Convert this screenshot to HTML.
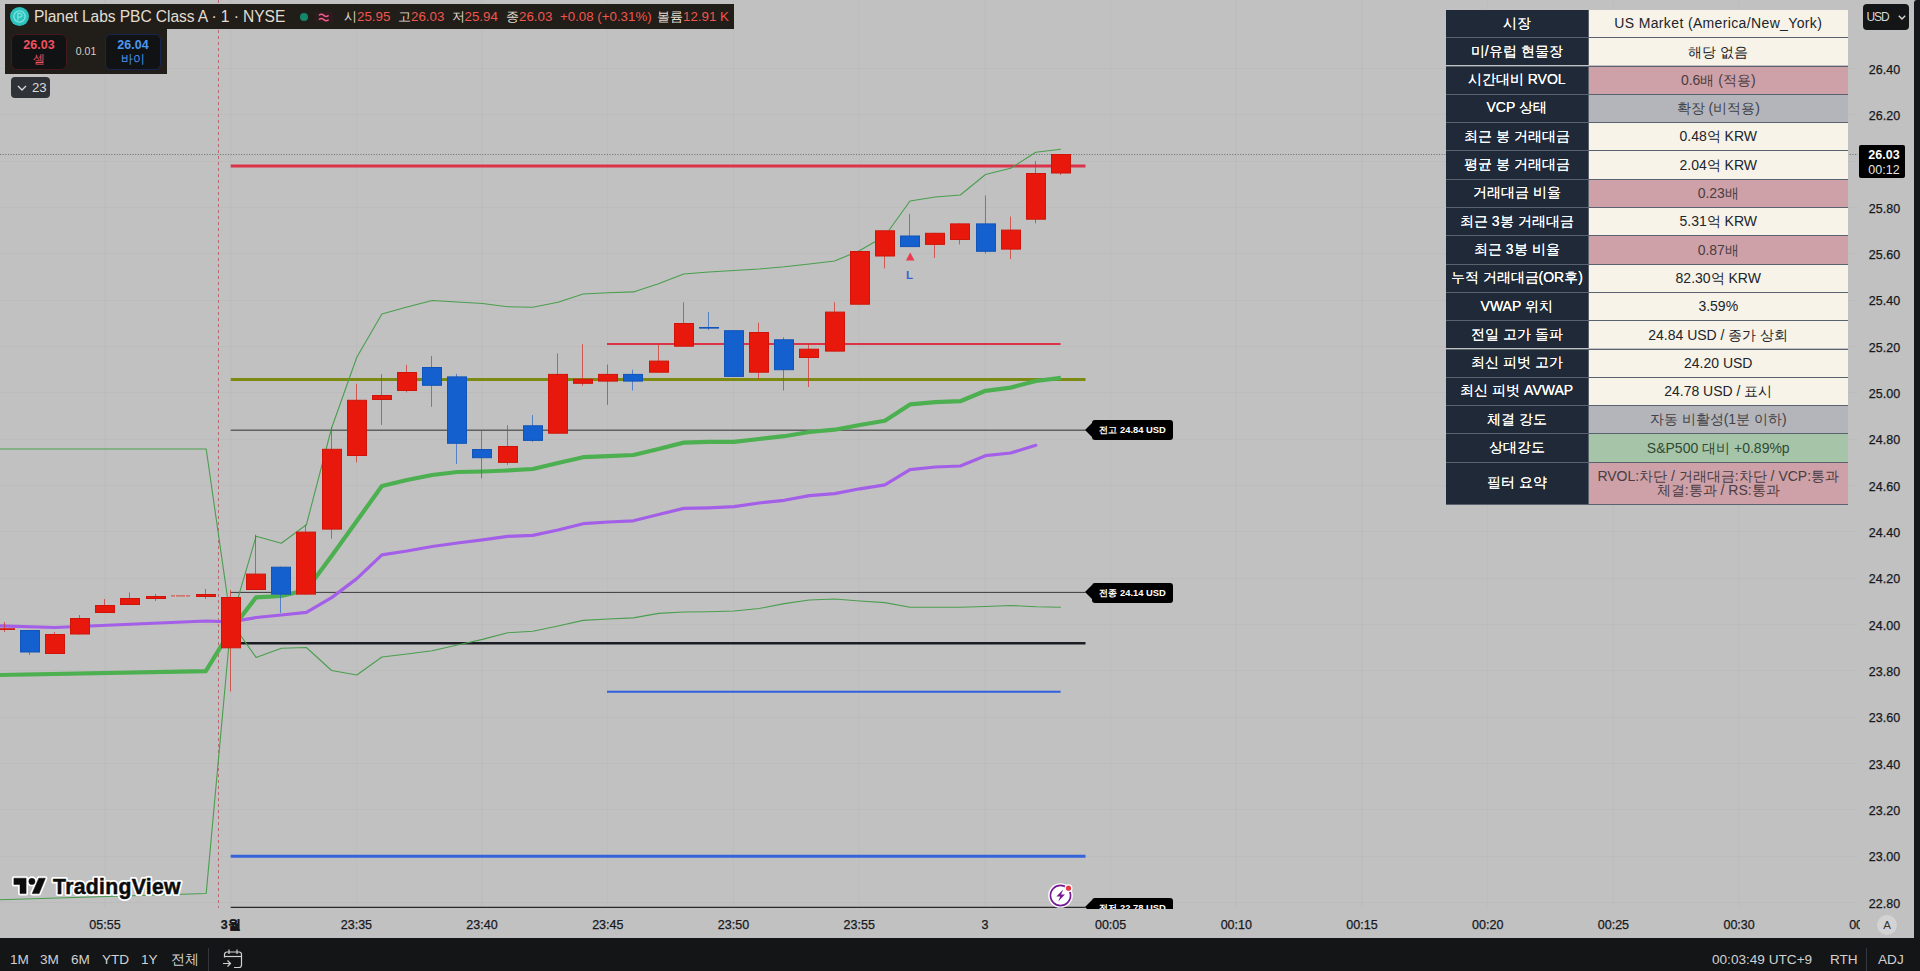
<!DOCTYPE html>
<html lang="ko"><head><meta charset="utf-8"><title>PL chart</title>
<style>
*{box-sizing:border-box;margin:0;padding:0}
html,body{width:1920px;height:971px;overflow:hidden;background:#c1c1c1;font-family:"Liberation Sans",sans-serif;color:#131722}
#chart{position:absolute;left:0;top:0;width:1914px;height:938px;background:#c1c1c1;overflow:hidden}
#chart svg{position:absolute;left:0;top:0}
#strip{position:absolute;left:1914px;top:0;width:6px;height:971px;background:#15171a;border-top-left-radius:3px}
#bottom{position:absolute;left:0;top:938.3px;width:1920px;bottom:0;overflow:hidden;background:#131517;color:#d1d1d1;font-size:14px}
#bottom span{position:absolute;top:13.7px;line-height:16px;white-space:nowrap;font-size:13.6px}
#bottom i{position:absolute;top:9.5px;width:1.4px;height:24px;background:#34363b}
.pl{position:absolute;left:1856.5px;width:56px;text-align:center;font-size:12.5px;line-height:16px;color:#16181d;-webkit-text-stroke:.25px #16181d}
.tl{position:absolute;top:916px;width:60px;text-align:center;font-size:12.5px;line-height:16px;color:#16181d;-webkit-text-stroke:.25px #16181d}
#tclip{position:absolute;left:0;top:908px;width:1860px;height:30px;overflow:hidden}
#tclip .tl{top:8.5px}
#lg1{position:absolute;left:5px;top:4px;width:729px;height:25px;background:#211d19;color:#e2ddd3;white-space:nowrap}
#lg2{position:absolute;left:5px;top:28px;width:162px;height:46px;background:#211d19}
#lg1 span{position:absolute;top:3px;line-height:19px}
.ttl{left:29px;font-size:15.6px;letter-spacing:-.08px}
.ohlc{font-size:13.3px;color:#e2ddd3}
.ohlc b{font-weight:400;color:#f0564d}
.btn{position:absolute;top:6px;width:56px;height:36px;border-radius:6px;background:#111214;text-align:center;font-size:12px;line-height:14px;padding-top:3px}
.btn b{display:block;font-size:12.5px}
#sell{left:6px;border:1px solid #42191d;color:#f0515f}
#buy{left:100px;border:1px solid #18264f;color:#4a98f2}
#spr{position:absolute;left:62px;top:16px;width:38px;text-align:center;font-size:10.5px;line-height:14px;color:#d6d1c8}
#cnt{position:absolute;left:11px;top:77px;width:39px;height:21px;border-radius:4px;background:#2f3237;color:#dcdcdc;font-size:13.2px;line-height:21px;padding-left:21px}
#usd{position:absolute;left:1863px;top:4px;width:46.4px;height:26px;border-radius:4px;background:#131517;color:#d8d8d8;font-size:12px;letter-spacing:-1.1px;line-height:26px;padding-left:3.5px}
#plab{position:absolute;left:1859px;top:145px;width:46px;height:33px;background:#000;color:#fff;font-size:12.5px;line-height:14.5px;text-align:center;padding-top:3px;padding-left:4px;font-weight:700;border-radius:2px}
#plab span{display:block;font-weight:400;color:#e6e6e6}
#tbl{position:absolute;left:0;top:0}
.tr{position:absolute;left:1446px;width:402px;border-top:1px solid #59626e}
.th{position:absolute;left:0;top:0;bottom:0;width:142.5px;background:#1f2937;color:#fff;text-align:center;font-size:14px;display:flex;align-items:center;justify-content:center;border-right:1px solid #59626e;white-space:nowrap;text-shadow:0 0 .4px #fff}
.td{position:absolute;left:142.5px;top:0;bottom:0;right:0;text-align:center;font-size:14px;display:flex;align-items:center;justify-content:center;color:#20242b;white-space:nowrap;line-height:14.5px}
.cr{background:#f7f3e8}
.pk{background:#cda1a7;color:#4b3c40}
.gy{background:#b4b5ba;color:#3f4248}
.gn{background:#a6c4a8;color:#2f4a35}
.two{white-space:normal}
#tblframe{position:absolute;left:1446px;top:9.5px;width:402.5px;height:494.5px;border:1px solid #59626e;border-top:none;pointer-events:none;border-color:transparent transparent #59626e00 #59626e}
.lab{position:absolute;left:1092px;width:81.2px;height:20.3px;background:#000;color:#fff;border-radius:3px;font-size:9.4px;font-weight:700;line-height:20.3px;text-align:center;white-space:nowrap}
.lab:before{content:"";position:absolute;left:-6.6px;top:2.65px;border-style:solid;border-width:7.5px 7px 7.5px 0;border-color:transparent #000 transparent transparent}
#ltxt{position:absolute;left:904px;top:267.5px;width:11px;text-align:center;color:#3565d4;font-size:11.5px;font-weight:700;line-height:14px}
</style></head>
<body>
<div id="chart">
<svg width="1914" height="908.5" viewBox="0 0 1914 908.5" shape-rendering="auto">
<line x1="105.0" y1="0" x2="105.0" y2="908" stroke="#000" stroke-opacity=".022"/>
<line x1="230.7" y1="0" x2="230.7" y2="908" stroke="#000" stroke-opacity=".022"/>
<line x1="356.4" y1="0" x2="356.4" y2="908" stroke="#000" stroke-opacity=".022"/>
<line x1="482.0" y1="0" x2="482.0" y2="908" stroke="#000" stroke-opacity=".022"/>
<line x1="607.8" y1="0" x2="607.8" y2="908" stroke="#000" stroke-opacity=".022"/>
<line x1="733.5" y1="0" x2="733.5" y2="908" stroke="#000" stroke-opacity=".022"/>
<line x1="859.2" y1="0" x2="859.2" y2="908" stroke="#000" stroke-opacity=".022"/>
<line x1="985.0" y1="0" x2="985.0" y2="908" stroke="#000" stroke-opacity=".022"/>
<line x1="1110.6" y1="0" x2="1110.6" y2="908" stroke="#000" stroke-opacity=".022"/>
<line x1="1236.3" y1="0" x2="1236.3" y2="908" stroke="#000" stroke-opacity=".022"/>
<line x1="1362.0" y1="0" x2="1362.0" y2="908" stroke="#000" stroke-opacity=".022"/>
<line x1="1487.7" y1="0" x2="1487.7" y2="908" stroke="#000" stroke-opacity=".022"/>
<line x1="1613.4" y1="0" x2="1613.4" y2="908" stroke="#000" stroke-opacity=".022"/>
<line x1="1739.1" y1="0" x2="1739.1" y2="908" stroke="#000" stroke-opacity=".022"/>
<line x1="0" y1="68.5" x2="1858" y2="68.5" stroke="#000" stroke-opacity=".022"/>
<line x1="0" y1="114.5" x2="1858" y2="114.5" stroke="#000" stroke-opacity=".022"/>
<line x1="0" y1="161.5" x2="1858" y2="161.5" stroke="#000" stroke-opacity=".022"/>
<line x1="0" y1="207.5" x2="1858" y2="207.5" stroke="#000" stroke-opacity=".022"/>
<line x1="0" y1="253.5" x2="1858" y2="253.5" stroke="#000" stroke-opacity=".022"/>
<line x1="0" y1="300.5" x2="1858" y2="300.5" stroke="#000" stroke-opacity=".022"/>
<line x1="0" y1="346.5" x2="1858" y2="346.5" stroke="#000" stroke-opacity=".022"/>
<line x1="0" y1="392.5" x2="1858" y2="392.5" stroke="#000" stroke-opacity=".022"/>
<line x1="0" y1="439.5" x2="1858" y2="439.5" stroke="#000" stroke-opacity=".022"/>
<line x1="0" y1="485.5" x2="1858" y2="485.5" stroke="#000" stroke-opacity=".022"/>
<line x1="0" y1="531.5" x2="1858" y2="531.5" stroke="#000" stroke-opacity=".022"/>
<line x1="0" y1="578.5" x2="1858" y2="578.5" stroke="#000" stroke-opacity=".022"/>
<line x1="0" y1="624.5" x2="1858" y2="624.5" stroke="#000" stroke-opacity=".022"/>
<line x1="0" y1="670.5" x2="1858" y2="670.5" stroke="#000" stroke-opacity=".022"/>
<line x1="0" y1="717.5" x2="1858" y2="717.5" stroke="#000" stroke-opacity=".022"/>
<line x1="0" y1="763.5" x2="1858" y2="763.5" stroke="#000" stroke-opacity=".022"/>
<line x1="0" y1="809.5" x2="1858" y2="809.5" stroke="#000" stroke-opacity=".022"/>
<line x1="0" y1="856.5" x2="1858" y2="856.5" stroke="#000" stroke-opacity=".022"/>
<line x1="0" y1="902.5" x2="1858" y2="902.5" stroke="#000" stroke-opacity=".022"/>
<line x1="218.5" y1="0" x2="218.5" y2="908" stroke="#b8434f" stroke-width="1" stroke-dasharray="3 3" stroke-opacity=".7"/>
<line x1="0" y1="154.5" x2="1858" y2="154.5" stroke="#727272" stroke-width="1" stroke-dasharray="1.1 1.55"/>
<line x1="230.7" y1="430.2" x2="1085.5" y2="430.2" stroke="#606060" stroke-width="1.6"/>
<line x1="230.7" y1="592.4" x2="1085.5" y2="592.4" stroke="#3a3a3a" stroke-width="1"/>
<line x1="230.7" y1="907.4" x2="1085.5" y2="907.4" stroke="#2a2a2a" stroke-width="1.2"/>
<line x1="230.7" y1="643.2" x2="1085.5" y2="643.2" stroke="#1b1d24" stroke-width="2.4"/>
<line x1="230.7" y1="379.4" x2="1085.5" y2="379.4" stroke="#7d8a12" stroke-width="3"/>
<line x1="230.7" y1="166" x2="1085.5" y2="166" stroke="#dc3349" stroke-width="3.2"/>
<line x1="607" y1="344" x2="1060.6" y2="344" stroke="#dc3349" stroke-width="2.2"/>
<line x1="607" y1="691.8" x2="1060.6" y2="691.8" stroke="#3060dc" stroke-width="2"/>
<line x1="230.7" y1="856.2" x2="1085.5" y2="856.2" stroke="#3464dc" stroke-width="3"/>
<polyline points="0.0,449.0 206.2,449.0 231.0,622.0 256.1,536.3 281.3,543.2 306.4,524.7 331.6,428.0 356.8,357.3 381.9,314.0 407.0,307.0 432.2,300.5 457.4,302.0 482.5,303.5 507.6,306.7 532.8,307.2 558.0,302.2 583.1,294.0 608.2,292.8 633.4,291.9 658.5,283.7 683.7,274.0 708.8,272.0 734.0,270.5 759.1,269.0 784.3,266.8 809.4,264.0 834.6,261.0 859.8,250.5 884.9,236.0 910.0,201.0 935.2,197.0 960.3,195.0 985.5,174.5 1010.6,168.3 1035.8,152.2 1060.9,149.3" fill="none" stroke="#4a9e4e" stroke-width="1.1" stroke-linejoin="round"/>
<polyline points="0.0,899.7 206.2,893.5 231.0,622.0 256.1,657.4 281.3,648.3 306.4,647.5 331.6,670.5 356.8,675.0 381.9,657.0 407.0,654.0 432.2,650.7 457.4,645.0 482.5,639.4 507.6,632.7 532.8,631.2 558.0,626.0 583.1,620.4 608.2,619.0 633.4,617.9 658.5,613.4 683.7,612.0 708.8,611.7 734.0,611.0 759.1,608.5 784.3,603.6 809.4,600.0 834.6,599.0 859.8,601.0 884.9,602.6 910.0,607.2 935.2,607.2 960.3,607.2 985.5,606.5 1010.6,605.5 1035.8,606.8 1060.9,607.2" fill="none" stroke="#4a9e4e" stroke-width="1.1" stroke-linejoin="round"/>
<polyline points="0.0,625.8 55.0,627.5 205.8,621.0 231.0,621.8 256.1,617.5 281.3,615.0 306.4,612.4 331.6,597.6 356.8,578.6 381.9,554.9 407.0,551.0 432.2,546.5 457.4,543.0 482.5,539.8 507.6,536.3 532.8,535.4 558.0,530.0 583.1,523.7 608.2,522.0 633.4,520.8 658.5,514.5 683.7,508.4 708.8,507.8 734.0,506.7 759.1,503.0 784.3,500.3 809.4,495.6 834.6,493.6 859.8,488.8 884.9,484.9 910.0,469.6 935.2,467.0 960.3,466.0 985.5,455.7 1010.6,453.0 1035.8,445.3" fill="none" stroke="#a45fe8" stroke-width="3.2" stroke-linejoin="round" stroke-linecap="round"/>
<polyline points="0.0,675.0 205.8,671.2 231.0,630.0 256.1,597.3 281.3,596.0 306.4,590.0 331.6,556.0 356.8,521.0 381.9,486.0 407.0,480.0 432.2,475.0 457.4,472.0 482.5,471.5 507.6,470.5 532.8,469.0 558.0,463.0 583.1,457.2 608.2,456.2 633.4,455.0 658.5,449.0 683.7,442.6 708.8,441.8 734.0,441.8 759.1,439.0 784.3,436.2 809.4,432.0 834.6,429.7 859.8,425.0 884.9,420.7 910.0,404.4 935.2,402.2 960.3,401.2 985.5,390.8 1010.6,387.6 1035.8,381.0 1060.9,377.8" fill="none" stroke="#4caf50" stroke-width="4.2" stroke-linejoin="round"/>
<line x1="4.5" y1="622.0" x2="4.5" y2="632.0" stroke="#d2362b" stroke-width="1" stroke-opacity=".75"/>
<rect x="-4.5" y="628.8" width="19" height="0.6" fill="#e8190c" stroke="#cf1409" stroke-width="1"/>
<line x1="29.5" y1="630.0" x2="29.5" y2="655.0" stroke="#2f6cc4" stroke-width="1" stroke-opacity=".75"/>
<rect x="20.5" y="630.5" width="19" height="21.5" fill="#1560cf" stroke="#1254b8" stroke-width="1"/>
<line x1="54.5" y1="632.0" x2="54.5" y2="654.0" stroke="#d2362b" stroke-width="1" stroke-opacity=".75"/>
<rect x="45.5" y="634.5" width="19" height="19.0" fill="#e8190c" stroke="#cf1409" stroke-width="1"/>
<line x1="79.5" y1="615.0" x2="79.5" y2="634.5" stroke="#d2362b" stroke-width="1" stroke-opacity=".75"/>
<rect x="70.5" y="618.5" width="19" height="15.5" fill="#e8190c" stroke="#cf1409" stroke-width="1"/>
<line x1="104.5" y1="599.0" x2="104.5" y2="613.0" stroke="#d2362b" stroke-width="1" stroke-opacity=".75"/>
<rect x="95.5" y="605.5" width="19" height="7.0" fill="#e8190c" stroke="#cf1409" stroke-width="1"/>
<line x1="129.5" y1="592.5" x2="129.5" y2="605.0" stroke="#d2362b" stroke-width="1" stroke-opacity=".75"/>
<rect x="120.5" y="598.5" width="19" height="6.0" fill="#e8190c" stroke="#cf1409" stroke-width="1"/>
<line x1="155.5" y1="594.0" x2="155.5" y2="601.0" stroke="#d2362b" stroke-width="1" stroke-opacity=".75"/>
<rect x="146.5" y="596.5" width="19" height="2.0" fill="#e8190c" stroke="#cf1409" stroke-width="1"/>
<line x1="180.5" y1="595.3" x2="180.5" y2="596.3" stroke="#d2362b" stroke-width="1" stroke-opacity=".75"/>
<line x1="171" y1="595.8" x2="191" y2="595.8" stroke="#d85a50" stroke-width="1.2" stroke-dasharray="4 1"/>
<line x1="205.5" y1="589.0" x2="205.5" y2="599.0" stroke="#d2362b" stroke-width="1" stroke-opacity=".75"/>
<rect x="196.5" y="594.5" width="19" height="2.0" fill="#e8190c" stroke="#cf1409" stroke-width="1"/>
<line x1="230.5" y1="590.0" x2="230.5" y2="691.5" stroke="#d2362b" stroke-width="1" stroke-opacity=".75"/>
<rect x="221.5" y="597.5" width="19" height="50.3" fill="#e8190c" stroke="#cf1409" stroke-width="1"/>
<line x1="255.5" y1="534.6" x2="255.5" y2="590.0" stroke="#d2362b" stroke-width="1" stroke-opacity=".75"/>
<rect x="246.5" y="574.1" width="19" height="15.4" fill="#e8190c" stroke="#cf1409" stroke-width="1"/>
<line x1="280.5" y1="566.7" x2="280.5" y2="613.0" stroke="#2f6cc4" stroke-width="1" stroke-opacity=".75"/>
<rect x="271.5" y="567.2" width="19" height="26.9" fill="#1560cf" stroke="#1254b8" stroke-width="1"/>
<line x1="305.5" y1="524.7" x2="305.5" y2="594.6" stroke="#d2362b" stroke-width="1" stroke-opacity=".75"/>
<rect x="296.5" y="532.1" width="19" height="62.0" fill="#e8190c" stroke="#cf1409" stroke-width="1"/>
<line x1="331.5" y1="427.5" x2="331.5" y2="538.8" stroke="#d2362b" stroke-width="1" stroke-opacity=".75"/>
<rect x="322.5" y="449.3" width="19" height="79.8" fill="#e8190c" stroke="#cf1409" stroke-width="1"/>
<line x1="356.5" y1="383.8" x2="356.5" y2="462.4" stroke="#d2362b" stroke-width="1" stroke-opacity=".75"/>
<rect x="347.5" y="400.3" width="19" height="55.2" fill="#e8190c" stroke="#cf1409" stroke-width="1"/>
<line x1="381.5" y1="374.0" x2="381.5" y2="425.0" stroke="#d2362b" stroke-width="1" stroke-opacity=".75"/>
<rect x="372.5" y="395.5" width="19" height="4.0" fill="#e8190c" stroke="#cf1409" stroke-width="1"/>
<line x1="406.5" y1="364.8" x2="406.5" y2="392.4" stroke="#d2362b" stroke-width="1" stroke-opacity=".75"/>
<rect x="397.5" y="372.5" width="19" height="18.0" fill="#e8190c" stroke="#cf1409" stroke-width="1"/>
<line x1="431.5" y1="355.9" x2="431.5" y2="406.8" stroke="#2f6cc4" stroke-width="1" stroke-opacity=".75"/>
<rect x="422.5" y="367.5" width="19" height="17.8" fill="#1560cf" stroke="#1254b8" stroke-width="1"/>
<line x1="456.5" y1="373.9" x2="456.5" y2="464.0" stroke="#2f6cc4" stroke-width="1" stroke-opacity=".75"/>
<rect x="447.5" y="376.9" width="19" height="66.4" fill="#1560cf" stroke="#1254b8" stroke-width="1"/>
<line x1="481.5" y1="430.0" x2="481.5" y2="478.4" stroke="#2f6cc4" stroke-width="1" stroke-opacity=".75"/>
<rect x="472.5" y="449.5" width="19" height="8.2" fill="#1560cf" stroke="#1254b8" stroke-width="1"/>
<line x1="507.5" y1="425.3" x2="507.5" y2="464.8" stroke="#d2362b" stroke-width="1" stroke-opacity=".75"/>
<rect x="498.5" y="446.5" width="19" height="15.9" fill="#e8190c" stroke="#cf1409" stroke-width="1"/>
<line x1="532.5" y1="415.0" x2="532.5" y2="441.9" stroke="#2f6cc4" stroke-width="1" stroke-opacity=".75"/>
<rect x="523.5" y="425.8" width="19" height="14.6" fill="#1560cf" stroke="#1254b8" stroke-width="1"/>
<line x1="557.5" y1="353.4" x2="557.5" y2="433.7" stroke="#d2362b" stroke-width="1" stroke-opacity=".75"/>
<rect x="548.5" y="374.4" width="19" height="58.8" fill="#e8190c" stroke="#cf1409" stroke-width="1"/>
<line x1="582.5" y1="344.2" x2="582.5" y2="385.8" stroke="#d2362b" stroke-width="1" stroke-opacity=".75"/>
<rect x="573.5" y="379.3" width="19" height="4.0" fill="#e8190c" stroke="#cf1409" stroke-width="1"/>
<line x1="607.5" y1="364.5" x2="607.5" y2="404.8" stroke="#d2362b" stroke-width="1" stroke-opacity=".75"/>
<rect x="598.5" y="374.4" width="19" height="6.7" fill="#e8190c" stroke="#cf1409" stroke-width="1"/>
<line x1="632.5" y1="369.7" x2="632.5" y2="390.5" stroke="#2f6cc4" stroke-width="1" stroke-opacity=".75"/>
<rect x="623.5" y="374.4" width="19" height="6.7" fill="#1560cf" stroke="#1254b8" stroke-width="1"/>
<line x1="658.5" y1="344.7" x2="658.5" y2="372.7" stroke="#d2362b" stroke-width="1" stroke-opacity=".75"/>
<rect x="649.5" y="361.1" width="19" height="11.1" fill="#e8190c" stroke="#cf1409" stroke-width="1"/>
<line x1="683.5" y1="302.2" x2="683.5" y2="346.7" stroke="#d2362b" stroke-width="1" stroke-opacity=".75"/>
<rect x="674.5" y="323.5" width="19" height="22.7" fill="#e8190c" stroke="#cf1409" stroke-width="1"/>
<line x1="708.5" y1="312.0" x2="708.5" y2="330.0" stroke="#2f6cc4" stroke-width="1" stroke-opacity=".75"/>
<rect x="699.5" y="327.5" width="19" height="0.6" fill="#1560cf" stroke="#1254b8" stroke-width="1"/>
<line x1="733.5" y1="330.2" x2="733.5" y2="376.9" stroke="#2f6cc4" stroke-width="1" stroke-opacity=".75"/>
<rect x="724.5" y="330.7" width="19" height="45.7" fill="#1560cf" stroke="#1254b8" stroke-width="1"/>
<line x1="758.5" y1="322.7" x2="758.5" y2="378.8" stroke="#d2362b" stroke-width="1" stroke-opacity=".75"/>
<rect x="749.5" y="332.5" width="19" height="39.7" fill="#e8190c" stroke="#cf1409" stroke-width="1"/>
<line x1="783.5" y1="337.3" x2="783.5" y2="390.5" stroke="#2f6cc4" stroke-width="1" stroke-opacity=".75"/>
<rect x="774.5" y="339.8" width="19" height="29.9" fill="#1560cf" stroke="#1254b8" stroke-width="1"/>
<line x1="808.5" y1="343.0" x2="808.5" y2="387.0" stroke="#d2362b" stroke-width="1" stroke-opacity=".75"/>
<rect x="799.5" y="349.2" width="19" height="8.3" fill="#e8190c" stroke="#cf1409" stroke-width="1"/>
<line x1="834.5" y1="302.2" x2="834.5" y2="351.6" stroke="#d2362b" stroke-width="1" stroke-opacity=".75"/>
<rect x="825.5" y="312.1" width="19" height="39.0" fill="#e8190c" stroke="#cf1409" stroke-width="1"/>
<line x1="859.5" y1="251.0" x2="859.5" y2="304.7" stroke="#d2362b" stroke-width="1" stroke-opacity=".75"/>
<rect x="850.5" y="251.5" width="19" height="52.7" fill="#e8190c" stroke="#cf1409" stroke-width="1"/>
<line x1="884.5" y1="230.3" x2="884.5" y2="268.4" stroke="#d2362b" stroke-width="1" stroke-opacity=".75"/>
<rect x="875.5" y="230.8" width="19" height="25.2" fill="#e8190c" stroke="#cf1409" stroke-width="1"/>
<line x1="909.5" y1="214.0" x2="909.5" y2="247.1" stroke="#2f6cc4" stroke-width="1" stroke-opacity=".75"/>
<rect x="900.5" y="236.0" width="19" height="10.6" fill="#1560cf" stroke="#1254b8" stroke-width="1"/>
<line x1="934.5" y1="232.8" x2="934.5" y2="258.0" stroke="#d2362b" stroke-width="1" stroke-opacity=".75"/>
<rect x="925.5" y="233.3" width="19" height="11.1" fill="#e8190c" stroke="#cf1409" stroke-width="1"/>
<line x1="959.5" y1="223.4" x2="959.5" y2="244.4" stroke="#d2362b" stroke-width="1" stroke-opacity=".75"/>
<rect x="950.5" y="223.9" width="19" height="15.6" fill="#e8190c" stroke="#cf1409" stroke-width="1"/>
<line x1="985.5" y1="195.5" x2="985.5" y2="253.5" stroke="#2f6cc4" stroke-width="1" stroke-opacity=".75"/>
<rect x="976.5" y="223.9" width="19" height="27.4" fill="#1560cf" stroke="#1254b8" stroke-width="1"/>
<line x1="1010.5" y1="216.5" x2="1010.5" y2="259.0" stroke="#d2362b" stroke-width="1" stroke-opacity=".75"/>
<rect x="1001.5" y="230.1" width="19" height="19.0" fill="#e8190c" stroke="#cf1409" stroke-width="1"/>
<line x1="1035.5" y1="160.9" x2="1035.5" y2="223.4" stroke="#d2362b" stroke-width="1" stroke-opacity=".75"/>
<rect x="1026.5" y="173.5" width="19" height="45.7" fill="#e8190c" stroke="#cf1409" stroke-width="1"/>
<line x1="1060.5" y1="154.0" x2="1060.5" y2="175.0" stroke="#d2362b" stroke-width="1" stroke-opacity=".75"/>
<rect x="1051.5" y="154.5" width="19" height="18.5" fill="#e8190c" stroke="#cf1409" stroke-width="1"/>
<path d="M910.2 252.6 L914.5 260.4 L905.9 260.4 Z" fill="#ea3a4f"/>
</svg>
<div id="ltxt">L</div>
<div style="position:absolute;left:0;top:0;width:1914px;height:908.5px;overflow:hidden">
<div class="lab" style="top:420px">전고 24.84 USD</div>
<div class="lab" style="top:582.7px">전종 24.14 USD</div>
<div class="lab" style="top:897.5px">전저 22.78 USD</div>
</div>
<!-- flash icon -->
<svg style="left:1047px;top:882px" width="27" height="27" viewBox="0 0 27 27">
<circle cx="13.5" cy="13.5" r="12.3" fill="#fff"/>
<circle cx="13.5" cy="13.5" r="10.1" fill="#fff" stroke="#741a96" stroke-width="1.6"/>
<path d="M16.2 7.6 L9.4 14.5 L13.2 14.5 L11.2 19.6 L17.9 12.6 L14.1 12.6 Z" fill="#741a96"/>
<circle cx="21.5" cy="6.2" r="3.9" fill="#fff"/>
<circle cx="21.5" cy="6.2" r="2.6" fill="#e53948"/>
</svg>
<!-- TradingView logo -->
<svg style="left:8px;top:872px" width="182" height="34" viewBox="0 0 182 34">
<g stroke="#fff" stroke-width="4" stroke-linejoin="round" fill="#fff">
<path d="M5.9 6.2 H18.1 V21.6 H12 V12.5 H5.9 Z"/><circle cx="23.9" cy="9.4" r="3.1"/><path d="M30.8 6.2 H37.4 L31.1 21.6 H24.2 Z"/>
<text x="45.1" y="21.6" font-family="Liberation Sans, sans-serif" font-weight="700" font-size="21.2" textLength="127.4" lengthAdjust="spacing">TradingView</text>
</g>
<g fill="#0c0c0c" stroke="#0c0c0c" stroke-width=".5">
<path d="M5.9 6.2 H18.1 V21.6 H12 V12.5 H5.9 Z"/><circle cx="23.9" cy="9.4" r="3.1"/><path d="M30.8 6.2 H37.4 L31.1 21.6 H24.2 Z"/>
<text x="45.1" y="21.6" font-family="Liberation Sans, sans-serif" font-weight="700" font-size="21.2" textLength="127.4" lengthAdjust="spacing">TradingView</text>
</g>
</svg>
<div class="pl" style="top:61.5px">26.40</div>
<div class="pl" style="top:107.8px">26.20</div>
<div class="pl" style="top:154.2px">26.00</div>
<div class="pl" style="top:200.5px">25.80</div>
<div class="pl" style="top:246.8px">25.60</div>
<div class="pl" style="top:293.2px">25.40</div>
<div class="pl" style="top:339.5px">25.20</div>
<div class="pl" style="top:385.8px">25.00</div>
<div class="pl" style="top:432.2px">24.80</div>
<div class="pl" style="top:478.5px">24.60</div>
<div class="pl" style="top:524.8px">24.40</div>
<div class="pl" style="top:571.2px">24.20</div>
<div class="pl" style="top:617.5px">24.00</div>
<div class="pl" style="top:663.8px">23.80</div>
<div class="pl" style="top:710.2px">23.60</div>
<div class="pl" style="top:756.5px">23.40</div>
<div class="pl" style="top:802.8px">23.20</div>
<div class="pl" style="top:849.2px">23.00</div>
<div class="pl" style="top:895.5px">22.80</div>
<div id="tclip">
<div class="tl" style="left:75.0px">05:55</div>
<div class="tl" style="left:200.7px"><b>3월</b></div>
<div class="tl" style="left:326.4px">23:35</div>
<div class="tl" style="left:452.0px">23:40</div>
<div class="tl" style="left:577.8px">23:45</div>
<div class="tl" style="left:703.5px">23:50</div>
<div class="tl" style="left:829.2px">23:55</div>
<div class="tl" style="left:955.0px">3</div>
<div class="tl" style="left:1080.6px">00:05</div>
<div class="tl" style="left:1206.3px">00:10</div>
<div class="tl" style="left:1332.0px">00:15</div>
<div class="tl" style="left:1457.7px">00:20</div>
<div class="tl" style="left:1583.4px">00:25</div>
<div class="tl" style="left:1709.1px">00:30</div>
<div class="tl" style="left:1834.8px">00:35</div>
</div>
<!-- auto-scale A button -->
<div style="position:absolute;left:1877px;top:914.6px;width:20px;height:20px;border-radius:10px;background:#d3d3d3;color:#333;font-size:11.5px;line-height:20px;text-align:center">A</div>
<div id="plab">26.03<span>00:12</span></div>
<div id="usd">USD<svg style="position:absolute;left:35px;top:10.5px" width="8" height="5" viewBox="0 0 8 5"><path d="M.8 .8 L4 4 L7.2 .8" fill="none" stroke="#d8d8d8" stroke-width="1.4"/></svg></div>
</div>

<div id="tbl">
<div class="tr" style="top:9.90px;height:27.30px;border-top:0"><div class="th">시장</div><div class="td cr" style="letter-spacing:.36px">US Market (America/New_York)</div></div>
<div class="tr" style="top:37.20px;height:28.30px"><div class="th">미/유럽 현물장</div><div class="td cr">해당 없음</div></div>
<div class="tr" style="top:65.50px;height:28.30px"><div class="th">시간대비 RVOL</div><div class="td pk">0.6배 (적용)</div></div>
<div class="tr" style="top:93.80px;height:28.30px"><div class="th">VCP 상태</div><div class="td gy">확장 (비적용)</div></div>
<div class="tr" style="top:122.10px;height:28.30px"><div class="th">최근 봉 거래대금</div><div class="td cr">0.48억 KRW</div></div>
<div class="tr" style="top:150.40px;height:28.30px"><div class="th">평균 봉 거래대금</div><div class="td cr">2.04억 KRW</div></div>
<div class="tr" style="top:178.70px;height:28.30px"><div class="th">거래대금 비율</div><div class="td pk">0.23배</div></div>
<div class="tr" style="top:207.00px;height:28.30px"><div class="th">최근 3봉 거래대금</div><div class="td cr">5.31억 KRW</div></div>
<div class="tr" style="top:235.30px;height:28.30px"><div class="th">최근 3봉 비율</div><div class="td pk">0.87배</div></div>
<div class="tr" style="top:263.60px;height:28.30px"><div class="th">누적 거래대금(OR후)</div><div class="td cr">82.30억 KRW</div></div>
<div class="tr" style="top:291.90px;height:28.30px"><div class="th">VWAP 위치</div><div class="td cr">3.59%</div></div>
<div class="tr" style="top:320.20px;height:28.30px"><div class="th">전일 고가 돌파</div><div class="td cr">24.84 USD / 종가 상회</div></div>
<div class="tr" style="top:348.50px;height:28.30px"><div class="th">최신 피벗 고가</div><div class="td cr">24.20 USD</div></div>
<div class="tr" style="top:376.80px;height:28.30px"><div class="th">최신 피벗 AVWAP</div><div class="td cr">24.78 USD / 표시</div></div>
<div class="tr" style="top:405.10px;height:28.30px"><div class="th">체결 강도</div><div class="td gy">자동 비활성(1분 이하)</div></div>
<div class="tr" style="top:433.40px;height:28.30px"><div class="th">상대강도</div><div class="td gn">S&amp;P500 대비 +0.89%p</div></div>
<div class="tr" style="top:461.70px;height:42.30px"><div class="th">필터 요약</div><div class="td pk two">RVOL:차단 / 거래대금:차단 / VCP:통과<br>체결:통과 / RS:통과</div></div>
<div style="position:absolute;left:1446px;top:503.5px;width:402px;height:1px;background:#59626e"></div>
</div>

<div id="lg1">
<svg style="position:absolute;left:5px;top:3px" width="19" height="19" viewBox="0 0 19 19"><circle cx="9.5" cy="9.5" r="9.5" fill="#2cc3bf"/><circle cx="9.5" cy="9.5" r="5.6" fill="none" stroke="#7fe3df" stroke-width="1.3"/><path d="M7.9 13.2 V6.3 H10 a1.9 1.9 0 0 1 0 3.8 H7.9" fill="none" stroke="#7fe3df" stroke-width="1.2"/></svg>
<span class="ttl">Planet Labs PBC Class A · 1 · NYSE</span>
<svg style="position:absolute;left:294px;top:8px" width="40" height="10" viewBox="0 0 40 10"><circle cx="5" cy="5" r="4" fill="#14876b"/><rect x="16" y="-3" width="18" height="16" rx="3" fill="#3a1a22" opacity=".55"/><path d="M20 3.4 q2.4 -2.2 4.8 0 t4.8 0 M20 7.6 q2.4 -2.2 4.8 0 t4.8 0" fill="none" stroke="#f05a8c" stroke-width="1.5"/></svg>
<span class="ohlc" style="left:339px">시<b>25.95</b></span>
<span class="ohlc" style="left:393px">고<b>26.03</b></span>
<span class="ohlc" style="left:446.5px">저<b>25.94</b></span>
<span class="ohlc" style="left:501px">종<b>26.03</b></span>
<span class="ohlc" style="left:555px"><b>+0.08 (+0.31%)</b></span>
<span class="ohlc" style="left:652px">볼륨<b>12.91 K</b></span>
</div>
<div id="lg2">
<div class="btn" id="sell"><b>26.03</b>셀</div>
<div id="spr">0.01</div>
<div class="btn" id="buy"><b>26.04</b>바이</div>
</div>
<div id="cnt"><svg style="position:absolute;left:6px;top:8px" width="10" height="6" viewBox="0 0 10 6"><path d="M1 1 L5 5 L9 1" fill="none" stroke="#dcdcdc" stroke-width="1.3"/></svg>23</div>

<div id="strip"></div>
<div id="bottom">
<span style="left:10px">1M</span><span style="left:40px">3M</span><span style="left:71px">6M</span><span style="left:102px">YTD</span><span style="left:141px">1Y</span><span style="left:171px">전체</span>
<i style="left:208px"></i>
<svg style="position:absolute;left:222px;top:9.8px" width="22" height="22" viewBox="0 0 22 22" fill="none" stroke="#d1d1d1" stroke-width="1.2"><path d="M2.5 9.5 V6.5 a2.5 2.5 0 0 1 2.5 -2.5 H17 a2.5 2.5 0 0 1 2.5 2.5 V17 a2.5 2.5 0 0 1 -2.5 2.5 H12"/><path d="M2.5 8.5 H19.5"/><path d="M7 1.5 V6 M15 1.5 V6"/><path d="M1 15.5 H8.5 M5.5 12.5 L8.5 15.5 L5.5 18.5"/></svg>
<span style="left:1712px">00:03:49 UTC+9</span><span style="left:1830px">RTH</span>
<i style="left:1866px"></i>
<span style="left:1878px">ADJ</span>
</div>
</body></html>
